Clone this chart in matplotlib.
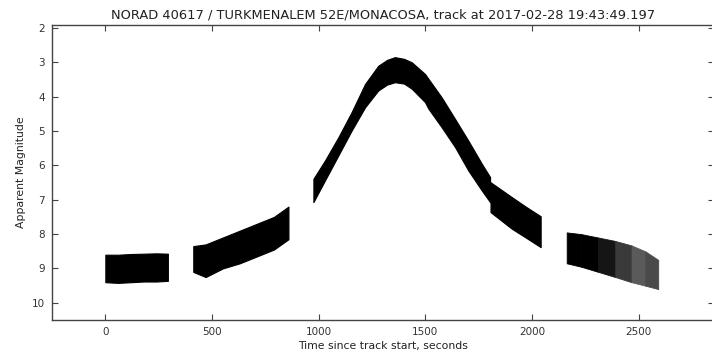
import numpy as np
import matplotlib.pyplot as plt

# light curve envelope (brightest / faintest magnitude) per pass segment
seg1_t = [0, 60, 120, 180, 240, 293]
seg1_top = [8.6, 8.6, 8.58, 8.57, 8.56, 8.57]
seg1_bot = [9.4, 9.42, 9.4, 9.38, 9.38, 9.36]

seg2_t = [412, 470, 550, 630, 710, 790, 858]
seg2_top = [8.35, 8.3, 8.1, 7.9, 7.7, 7.5, 7.2]
seg2_bot = [9.1, 9.25, 9.0, 8.85, 8.65, 8.45, 8.15]

seg3_t = [975, 1029, 1092, 1154, 1217, 1279, 1320, 1357, 1400, 1436, 1498, 1514,
          1576, 1639, 1701, 1764, 1803]
seg3_top = [6.39, 5.86, 5.18, 4.45, 3.63, 3.1, 2.93, 2.85, 2.9, 3.0, 3.34, 3.48,
            4.02, 4.65, 5.28, 5.95, 6.34]
seg3_bot = [7.07, 6.44, 5.71, 4.99, 4.31, 3.82, 3.65, 3.58, 3.62, 3.77, 4.16, 4.35,
            4.89, 5.47, 6.15, 6.73, 7.07]

seg4_t = [1805, 1904, 1970, 2040]
seg4_top = [6.49, 6.92, 7.2, 7.48]
seg4_bot = [7.36, 7.84, 8.1, 8.38]

seg5_t = [2162, 2230, 2310, 2390, 2466, 2530, 2591]
seg5_top = [7.95, 8.0, 8.1, 8.2, 8.33, 8.5, 8.75]
seg5_bot = [8.85, 8.95, 9.1, 9.25, 9.4, 9.5, 9.6]
# fewer samples towards the end of the track -> lighter cloud
seg5_shade = ['#000000', '#000000', '#151515', '#3a3a3a', '#5a5a5a', '#4a4a4a']

title = 'NORAD 40617 / TURKMENALEM 52E/MONACOSA, track at 2017-02-28 19:43:49.197'

fig = plt.figure(figsize=(7.12, 3.51), dpi=100)
ax = fig.add_axes([52 / 712, 31 / 351, 661.5 / 712, 295.5 / 351])

for t, top, bot in [(seg1_t, seg1_top, seg1_bot),
                    (seg2_t, seg2_top, seg2_bot),
                    (seg3_t, seg3_top, seg3_bot),
                    (seg4_t, seg4_top, seg4_bot)]:
    ax.fill_between(t, top, bot, color='k', lw=0.8, edgecolor='k')

for i in range(len(seg5_t) - 1):
    sl = slice(i, i + 2)
    ax.fill_between(seg5_t[sl], seg5_top[sl], seg5_bot[sl],
                    color=seg5_shade[i], lw=0.6, edgecolor=seg5_shade[i])

ax.set_xlim(-250, 2850)
ax.set_ylim(10.5, 1.9)
ax.set_xticks([0, 500, 1000, 1500, 2000, 2500])
ax.set_yticks(range(2, 11))

for s in ax.spines.values():
    s.set_color('#444444')
    s.set_linewidth(1)
ax.tick_params(direction='in', length=4, width=0.8, color='#444444',
               top=True, right=True, labelsize=7.5, labelcolor='#333333', pad=5)

ax.set_title(title, fontsize=9.35, color='#222222', pad=4)
ax.set_xlabel('Time since track start, seconds', fontsize=7.8, color='#222222', labelpad=3)
ax.set_ylabel('Apparent Magnitude', fontsize=7.8, color='#222222', labelpad=4)

fig.savefig('out.png', dpi=100)
